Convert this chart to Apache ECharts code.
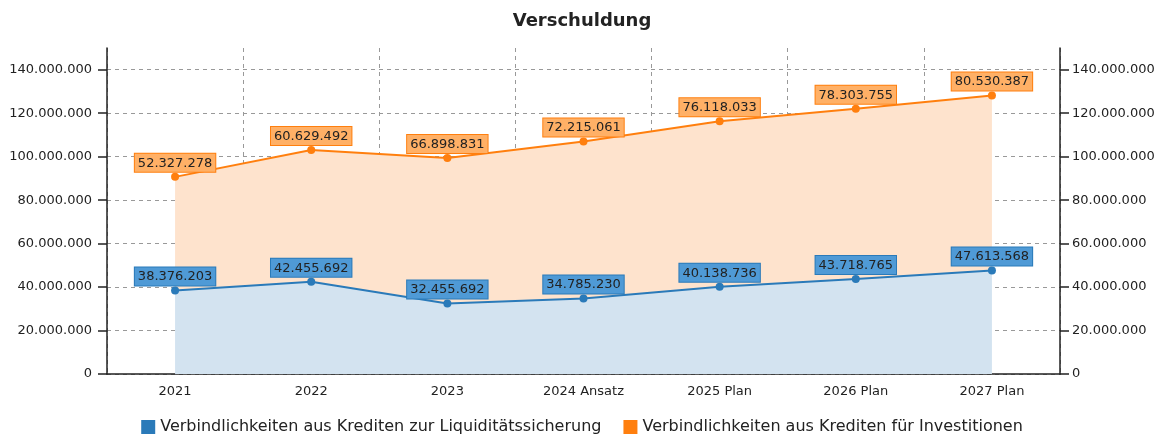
<!DOCTYPE html>
<html>
<head>
    <meta charset="utf-8">
    <title>Verschuldung</title>
    <script src="https://cdn.jsdelivr.net/npm/echarts@6/dist/echarts.min.js"></script>
    <style>
        html, body { margin: 0; padding: 0; width: 100%; height: 100%; background: #fff; }
        #main { width: 1164px; height: 434px; }
    </style>
</head>
<body>
    <div id="main"></div>
    <script>
        const years = ['2021', '2022', '2023', '2024 Ansatz', '2025 Plan', '2026 Plan', '2027 Plan'];
        const liquiditaet = [38376203, 42455692, 32455692, 34785230, 40138736, 43718765, 47613568];
        const investitionen = [52327278, 60629492, 66898831, 72215061, 76118033, 78303755, 80530387];
        const yTicks = [0, 20000000, 40000000, 60000000, 80000000, 100000000, 120000000, 140000000];

        const fmt = v => String(Math.round(v)).replace(/\B(?=(\d{3})+(?!\d))/g, '.');
        const font = 'DejaVu Sans';

        function valueAxis(pos) {
            return {
                type: 'value',
                position: pos,
                min: 0,
                max: 150000000,
                axisLine: { show: true, lineStyle: { color: '#222', width: 1.5 } },
                axisTick: { show: true, length: 9, customValues: yTicks, lineStyle: { color: '#222', width: 1.5 } },
                axisLabel: { customValues: yTicks, formatter: fmt, color: '#222', fontSize: 13, fontFamily: font, margin: pos === 'left' ? 15 : 12 },
                splitLine: { show: pos === 'left', lineStyle: { color: '#999', type: [4, 4] } }
            };
        }

        function lineSeries(name, data, color, area, labelBg) {
            return {
                name: name,
                type: 'line',
                stack: 'gesamt',
                data: data,
                symbol: 'circle',
                symbolSize: 8,
                itemStyle: { color: color },
                lineStyle: { color: color, width: 2 },
                areaStyle: { color: area, opacity: 1 },
                label: {
                    show: true,
                    position: 'top',
                    distance: 1,
                    formatter: p => fmt(p.value),
                    color: '#222',
                    fontSize: 13,
                    fontFamily: font,
                    backgroundColor: labelBg,
                    borderColor: color,
                    borderWidth: 1,
                    padding: [3, 3, 2, 3]
                }
            };
        }

        const chart = echarts.init(document.getElementById('main'));
        chart.setOption({
            animation: false,
            title: {
                text: 'Verschuldung',
                left: 'center',
                top: 7,
                textStyle: { fontSize: 18, fontWeight: 'bold', color: '#222', fontFamily: font }
            },
            legend: {
                top: 414,
                left: 'center',
                icon: 'rect',
                itemWidth: 14,
                itemHeight: 14,
                itemGap: 22,
                textStyle: { fontSize: 16, color: '#222', fontFamily: font }
            },
            grid: { left: 107, right: 104, top: 48, bottom: 60 },
            xAxis: {
                type: 'category',
                data: years,
                boundaryGap: true,
                axisLine: { lineStyle: { color: '#222', width: 1.5 } },
                axisTick: { alignWithLabel: true, length: 8, lineStyle: { color: '#222', width: 1.5 } },
                axisLabel: { color: '#222', fontSize: 13, fontFamily: font, margin: 11 },
                splitLine: { show: true, lineStyle: { color: '#999', type: [4, 4] } }
            },
            yAxis: [valueAxis('left'), valueAxis('right')],
            series: [
                lineSeries('Verbindlichkeiten aus Krediten zur Liquiditätssicherung', liquiditaet,
                    '#2a7ab9', '#d3e3f0', '#4f9ad6'),
                lineSeries('Verbindlichkeiten aus Krediten für Investitionen', investitionen,
                    '#ff7f0e', '#fee3cd', '#ffb066')
            ]
        });
    </script>
</body>
</html>
